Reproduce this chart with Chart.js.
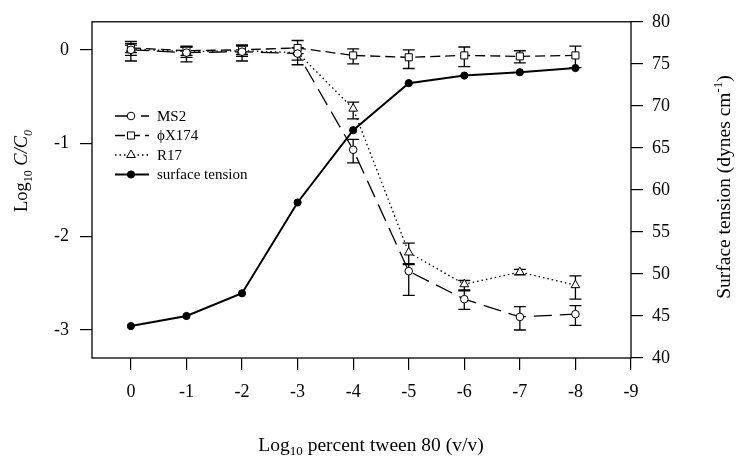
<!DOCTYPE html>
<html lang="en">
<head>
    <meta charset="UTF-8">
    <title>Tween 80 - virus removal</title>
    <script src="https://cdn.jsdelivr.net/npm/chart.js"></script>
    <style>
        body { margin: 0; background: #fff; }
        #wrap { width: 739px; height: 465px; }
    </style>
</head>
<body>

    <div id="wrap">
        <canvas id="grafico" width="739" height="465"></canvas>
    </div>

<script>

    // dados
    var logTween = [0, -1, -2, -3, -4, -5, -6, -7, -8];

    var ms2      = [0.00, -0.03, -0.02, -0.04, -1.07, -2.37, -2.67, -2.86, -2.83];
    var ms2Up    = [0.09, 0.07, 0.07, 0.06, 0.11, 0.07, 0.10, 0.11, 0.09];
    var ms2Down  = [0.12, 0.10, 0.10, 0.12, 0.14, 0.26, 0.11, 0.14, 0.12];

    var phiX     = [0.02, -0.01, 0.00, 0.02, -0.06, -0.08, -0.06, -0.07, -0.06];
    var phiXUp   = [0.05, 0.04, 0.05, 0.08, 0.07, 0.08, 0.09, 0.06, 0.10];
    var phiXDown = [0.05, 0.05, 0.05, 0.06, 0.09, 0.12, 0.12, 0.07, 0.13];

    var r17      = [0.01, -0.02, -0.01, -0.03, -0.63, -2.17, -2.51, -2.38, -2.52];
    var r17Up    = [0.04, 0.05, 0.05, 0.05, 0.07, 0.10, 0.04, 0.03, 0.10];
    var r17Down  = [0.07, 0.06, 0.06, 0.08, 0.11, 0.12, 0.07, 0.03, 0.15];

    var tensao   = [43.8, 45.0, 47.7, 58.5, 67.1, 72.7, 73.6, 74.0, 74.5];

    var nomes = ['MS2', '\u03D5X174', 'R17', 'surface tension'];

    var fonte = '"Liberation Serif", "Times New Roman", serif';

    function pontos(valores){
        return logTween.map((x, i) => ({ x: x, y: valores[i] }));
    }

    // barras de erro (desenhadas antes das linhas)
    var erros = [
        { dataset: 0, up: ms2Up, down: ms2Down },
        { dataset: 1, up: phiXUp, down: phiXDown },
        { dataset: 2, up: r17Up, down: r17Down }
    ];

    const barrasErro = {
        id: 'barrasErro',
        beforeDatasetsDraw(chart){
            const ctx = chart.ctx;
            const sx = chart.scales.x;
            const sy = chart.scales.y;
            ctx.save();
            ctx.strokeStyle = '#000';
            ctx.lineWidth = 1.3;
            erros.forEach(e => {
                const valores = chart.data.datasets[e.dataset].data;
                valores.forEach((p, i) => {
                    const px = sx.getPixelForValue(p.x);
                    const top = sy.getPixelForValue(p.y + e.up[i]);
                    const bot = sy.getPixelForValue(p.y - e.down[i]);
                    ctx.beginPath();
                    ctx.moveTo(px, top); ctx.lineTo(px, bot);
                    ctx.moveTo(px - 6, top); ctx.lineTo(px + 6, top);
                    ctx.moveTo(px - 6, bot); ctx.lineTo(px + 6, bot);
                    ctx.stroke();
                });
            });
            ctx.restore();
        }
    };

    function marcador(ctx, estilo, x, y, r, cheio){
        ctx.beginPath();
        if (estilo == 'circle') {
            ctx.arc(x, y, r, 0, Math.PI * 2);
        } else if (estilo == 'rect') {
            const s = r * Math.SQRT1_2;
            ctx.rect(x - s, y - s, 2 * s, 2 * s);
        } else {
            ctx.moveTo(x, y - r);
            ctx.lineTo(x + r * 0.866, y + r * 0.5);
            ctx.lineTo(x - r * 0.866, y + r * 0.5);
            ctx.closePath();
        }
        ctx.fillStyle = cheio ? '#000' : '#fff';
        ctx.fill();
        ctx.stroke();
    }

    // texto com indice / expoente
    function textoRico(ctx, partes, tam, cx, cy, angulo){
        ctx.save();
        ctx.translate(cx, cy);
        ctx.rotate(angulo);
        ctx.fillStyle = '#000';
        ctx.textBaseline = 'alphabetic';
        const fontDe = p => (p.italic ? 'italic ' : '') + ((p.sub || p.sup) ? Math.round(tam * 0.66) : tam) + 'px ' + fonte;
        let total = 0;
        partes.forEach(p => { ctx.font = fontDe(p); total += ctx.measureText(p.t).width; });
        let x = -total / 2;
        partes.forEach(p => {
            ctx.font = fontDe(p);
            const dy = p.sub ? tam * 0.22 : (p.sup ? -tam * 0.42 : 0);
            ctx.fillText(p.t, x, tam * 0.35 + dy);
            x += ctx.measureText(p.t).width;
        });
        ctx.restore();
    }

    const moldura = {
        id: 'moldura',
        afterDraw(chart){
            const ctx = chart.ctx;
            const a = chart.chartArea;
            ctx.save();
            ctx.strokeStyle = '#000';
            ctx.lineWidth = 1.3;
            ctx.strokeRect(a.left, a.top, a.right - a.left, a.bottom - a.top);

            // legenda
            const ds = chart.data.datasets;
            for (var i = 0; i < ds.length; i++) {
                const yy = 116 + i * 19.5;
                ctx.strokeStyle = '#000';
                ctx.lineWidth = ds[i].borderWidth;
                ctx.setLineDash(ds[i].borderDash || []);
                ctx.beginPath();
                ctx.moveTo(115, yy); ctx.lineTo(149, yy);
                ctx.stroke();
                ctx.setLineDash([]);
                ctx.lineWidth = 1;
                marcador(ctx, ds[i].pointStyle, 131, yy, ds[i].pointRadius, i == 3);
                ctx.fillStyle = '#000';
                ctx.font = '15px ' + fonte;
                ctx.textBaseline = 'middle';
                ctx.fillText(nomes[i], 157, yy + 1);
            }

            // titulos dos eixos
            textoRico(ctx, [{ t: 'Log' }, { t: '10', sub: true }, { t: ' percent tween 80 (v/v)' }], 19.5, 371, 444, 0);
            textoRico(ctx, [{ t: 'Log' }, { t: '10', sub: true }, { t: ' ' }, { t: 'C/C', italic: true }, { t: '0', sub: true, italic: true }], 18.5, 21, 171, -Math.PI / 2);
            textoRico(ctx, [{ t: 'Surface tension (dynes cm' }, { t: '-1', sup: true }, { t: ')' }], 19.5, 723, 187, -Math.PI / 2);
            ctx.restore();
        }
    };

    const eixoTicks = { font: { family: fonte, size: 18 }, color: '#000' };
    const eixoGrid = { drawOnChartArea: false, tickLength: 12, color: '#000', lineWidth: 1.2 };

    const ctx = document.getElementById('grafico').getContext('2d');
    const grafico = new Chart(ctx, {
        type: 'line',
        data: {
            datasets: [{
                label: nomes[0],
                data: pontos(ms2),
                yAxisID: 'y',
                borderColor: '#000',
                borderWidth: 1.3,
                borderDash: [18, 8],
                pointStyle: 'circle',
                pointRadius: 3.8,
                pointBackgroundColor: '#fff',
                pointBorderColor: '#000',
                pointBorderWidth: 1
            }, {
                label: nomes[1],
                data: pontos(phiX),
                yAxisID: 'y',
                borderColor: '#000',
                borderWidth: 1.3,
                borderDash: [10, 5],
                pointStyle: 'rect',
                pointRadius: 5,
                pointBackgroundColor: '#fff',
                pointBorderColor: '#000',
                pointBorderWidth: 1
            }, {
                label: nomes[2],
                data: pontos(r17),
                yAxisID: 'y',
                borderColor: '#000',
                borderWidth: 1.3,
                borderDash: [1.5, 3],
                pointStyle: 'triangle',
                pointRadius: 5,
                pointBackgroundColor: '#fff',
                pointBorderColor: '#000',
                pointBorderWidth: 1
            }, {
                label: nomes[3],
                data: pontos(tensao),
                yAxisID: 'y2',
                borderColor: '#000',
                borderWidth: 2,
                pointStyle: 'circle',
                pointRadius: 3.6,
                pointBackgroundColor: '#000',
                pointBorderColor: '#000',
                pointBorderWidth: 1
            }]
        },
        options: {
            responsive: false,
            animation: false,
            layout: { padding: { top: 18, left: 0, right: 0, bottom: 0 } },
            plugins: {
                legend: { display: false },
                tooltip: { enabled: false }
            },
            scales: {
                x: {
                    type: 'linear',
                    min: -9,
                    max: 0.7,
                    reverse: true,
                    ticks: Object.assign({ stepSize: 1, includeBounds: false, padding: 11 }, eixoTicks),
                    grid: eixoGrid,
                    border: { display: false },
                    afterFit: s => { s.height = 107; }
                },
                y: {
                    position: 'left',
                    min: -3.3,
                    max: 0.3,
                    ticks: Object.assign({ stepSize: 1, includeBounds: false, padding: 11 }, eixoTicks),
                    grid: eixoGrid,
                    border: { display: false },
                    afterFit: s => { s.width = 92; }
                },
                y2: {
                    position: 'right',
                    min: 40,
                    max: 80,
                    ticks: Object.assign({ stepSize: 5, padding: 9 }, eixoTicks),
                    grid: eixoGrid,
                    border: { display: false },
                    afterFit: s => { s.width = 108; }
                }
            }
        },
        plugins: [barrasErro, moldura]
    });

</script>
</body>
</html>
